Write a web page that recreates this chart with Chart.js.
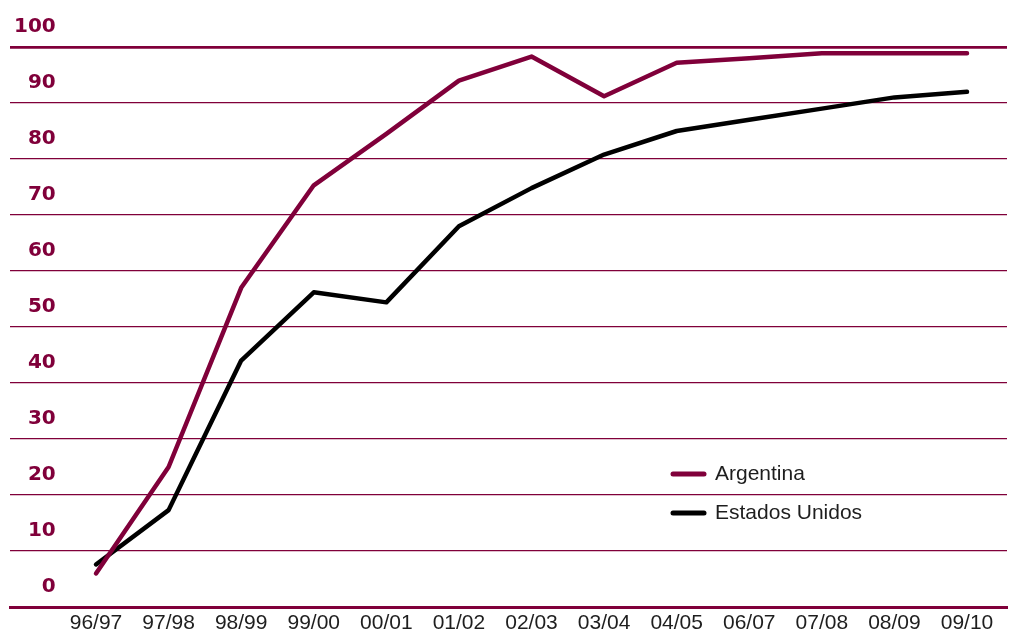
<!DOCTYPE html>
<html>
<head>
<meta charset="utf-8">
<script src="https://cdn.jsdelivr.net/npm/chart.js@4.4.1/dist/chart.umd.min.js"></script>
<style>
  html, body { margin: 0; padding: 0; background: #fff; }
  #wrap { width: 1009px; height: 635px; }
</style>
</head>
<body>
<div id="wrap"><canvas id="lineChart"></canvas></div>
<script>
const campanas = ['96/97', '97/98', '98/99', '99/00', '00/01', '01/02', '02/03', '03/04', '04/05', '06/07', '07/08', '08/09', '09/10'];
const argentina = [6, 25, 57, 75.3, 84.5, 94, 98.3, 91.2, 97.2, 98, 98.9, 98.9, 98.9];
const estadosUnidos = [7.6, 17.3, 44, 56.2, 54.4, 68, 74.8, 80.8, 85, 87, 89, 91, 92];
const ticksY = [0, 10, 20, 30, 40, 50, 60, 70, 80, 90, 100];

const rojo = '#80003a';

// leyenda dibujada dentro del area del grafico
const leyendaInterna = {
    id: 'leyendaInterna',
    afterDraw(chart) {
        const ctx = chart.ctx;
        ctx.save();
        chart.data.datasets.forEach((ds, i) => {
            const y = 474 + i * 39;
            ctx.strokeStyle = ds.borderColor;
            ctx.lineWidth = 5;
            ctx.lineCap = 'round';
            ctx.beginPath();
            ctx.moveTo(673, y);
            ctx.lineTo(704, y);
            ctx.stroke();
            ctx.fillStyle = '#1e1e1e';
            ctx.font = '21px "Liberation Sans", Arial, sans-serif';
            ctx.textBaseline = 'middle';
            ctx.fillText(ds.label, 715, y);
        });
        ctx.restore();
    }
};

const toPoints = arr => arr.map((v, i) => ({ x: i, y: v }));

new Chart(document.getElementById('lineChart').getContext('2d'), {
    type: 'line',
    data: {
        datasets: [{
            label: 'Argentina',
            data: toPoints(argentina),
            borderColor: rojo,
            borderWidth: 4.5,
            pointRadius: 0,
            tension: 0,
            borderCapStyle: 'round',
            borderJoinStyle: 'round'
        }, {
            label: 'Estados Unidos',
            data: toPoints(estadosUnidos),
            borderColor: '#000000',
            borderWidth: 4.5,
            pointRadius: 0,
            tension: 0,
            borderCapStyle: 'round',
            borderJoinStyle: 'round'
        }]
    },
    options: {
        responsive: true,
        maintainAspectRatio: false,
        animation: false,
        layout: { padding: { left: 2, right: 2, top: 47, bottom: -5 } },
        plugins: {
            legend: { display: false },
            tooltip: { enabled: false }
        },
        scales: {
            x: {
                type: 'linear',
                min: -1.185,
                max: 12.551,
                afterBuildTicks: scale => { scale.ticks = campanas.map((_, i) => ({ value: i })); },
                grid: { display: false, drawTicks: false },
                border: { display: true, color: rojo, width: 3 },
                ticks: {
                    autoSkip: false,
                    maxRotation: 0,
                    padding: 6,
                    color: '#1e1e1e',
                    font: { family: '"Liberation Sans", Arial, sans-serif', size: 21, lineHeight: 1 },
                    callback: v => campanas[v] ?? ''
                }
            },
            y: {
                min: 0,
                max: 100,
                afterBuildTicks: scale => { scale.ticks = ticksY.map(v => ({ value: v })); },
                border: { display: false },
                grid: {
                    drawTicks: false,
                    color: rojo,
                    lineWidth: c => c.tick.value === 100 ? 2.7 : (c.tick.value === 0 ? 3 : 1.2)
                },
                ticks: {
                    mirror: true,
                    crossAlign: 'far',
                    padding: 4,
                    labelOffset: -20.5,
                    color: rojo,
                    font: { family: '"DejaVu Sans", sans-serif', size: 20, weight: 'bold' }
                }
            }
        }
    },
    plugins: [leyendaInterna]
});
</script>
</body>
</html>
